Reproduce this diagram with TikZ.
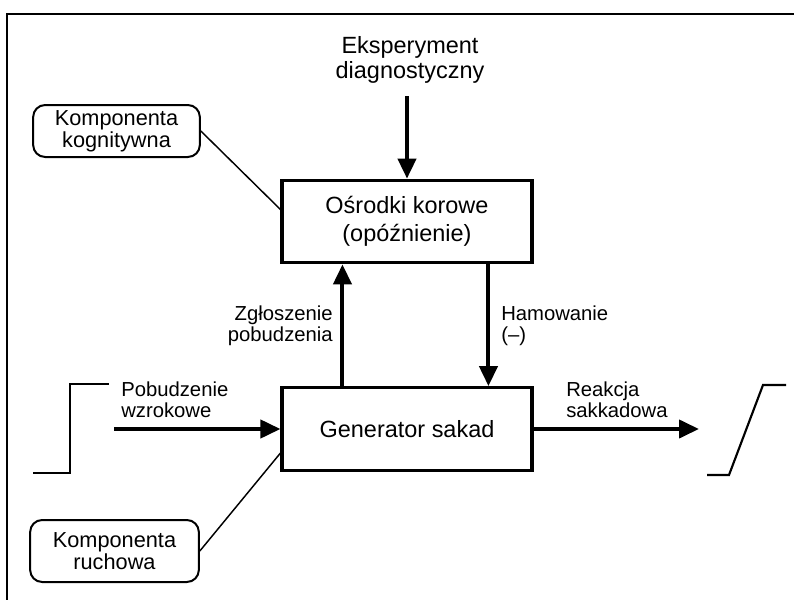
\documentclass[tikz,border=0pt]{standalone}
\usepackage{fontspec}
\setmainfont{Liberation Sans}
\usetikzlibrary{arrows.meta,calc}
\begin{document}
\begin{tikzpicture}[x=0.75pt,y=-0.75pt,
  mainbox/.style={draw,line width=2.3pt,minimum width=187.5pt,minimum height=62pt,align=center,inner sep=0pt,font=\fontsize{17.6}{21}\selectfont},
  compbox/.style={draw,line width=1.5pt,rounded corners=9pt,align=center,inner sep=0pt,font=\fontsize{16.3}{16.5}\selectfont},
  lbl/.style={inner sep=0pt,font=\fontsize{15.2}{16}\selectfont},
  bigarrow/.style={line width=3pt,-{Triangle[length=15pt,width=13.5pt]}},
  thin/.style={line width=1.1pt},
  sig/.style={line width=1.6pt},
  frame/.style={line width=1.6pt}]
\useasboundingbox (0,0) rectangle (794,600);
% frame
\coordinate (f1) at (7,14);
\coordinate (f2) at (794,14);
\coordinate (f3) at (7,600);
\draw[frame] (f2) -- (f1) -- (f3);
% main boxes
\node[mainbox] (osr) at (407,221.5) {Ośrodki korowe\\(opóźnienie)};
\node[mainbox] (gen) at (407,429) {Generator sakad};
% top text and arrow
\node[inner sep=0pt,align=center,font=\fontsize{17.6}{18.5}\selectfont] (eks) at (410,60) {Eksperyment\\diagnostyczny};
\coordinate (eksend) at (407,96);
\draw[bigarrow] (eksend) -- (osr.north);
% vertical arrows
\draw[bigarrow] ([xshift=46.5pt]gen.north west) -- ([xshift=46.5pt]osr.south west);
\draw[bigarrow] ([xshift=156pt]osr.south west) -- ([xshift=156pt]gen.north west);
\node[lbl,align=right,anchor=east] (zg) at (333,326) {Zgłoszenie\\pobudzenia};
\node[lbl,align=left,anchor=west] (ham) at (501,326) {Hamowanie\\(–)};
% component boxes
\node[compbox,minimum width=125pt,minimum height=39pt] (kog) at (116.5,131) {Komponenta\\kognitywna};
\node[compbox,minimum width=126.5pt,minimum height=46.5pt] (ruch) at (114.5,551) {Komponenta\\ruchowa};
\draw[thin] (kog.east) -- ($(osr.north west)!0.36!(osr.south west)$);
\draw[thin] (ruch.east) -- ($(gen.north west)!0.78!(gen.south west)$);
% input
\coordinate (instart) at (114,429);
\draw[bigarrow] (instart) -- (gen.west);
\node[lbl,align=left,anchor=west] (pob) at (121,400) {Pobudzenie\\wzrokowe};
\coordinate (s1) at (33,473);
\coordinate (s2) at (70,473);
\coordinate (s3) at (70,384);
\coordinate (s4) at (109,384);
\draw[sig] (s1) -- (s2) -- (s3) -- (s4);
% output
\coordinate (outend) at (699,429);
\draw[bigarrow] (gen.east) -- (outend);
\node[lbl,align=left,anchor=west] (reak) at (566,400) {Reakcja\\sakkadowa};
\coordinate (r1) at (707,475);
\coordinate (r2) at (729,475);
\coordinate (r3) at (763,385);
\coordinate (r4) at (786,385);
\draw[sig] (r1) -- (r2) -- (r3) -- (r4);
\end{tikzpicture}
\end{document}
